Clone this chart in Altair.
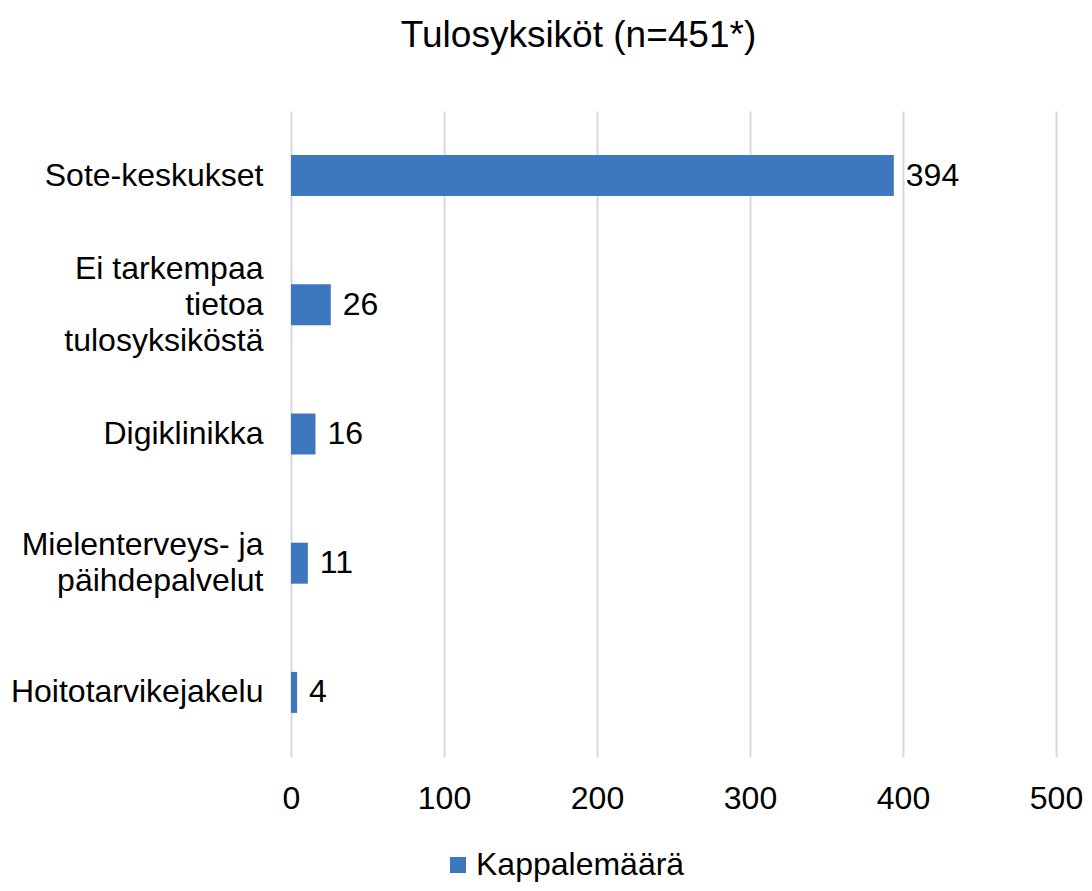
import altair as alt
import pandas as pd

categories = ["Sote-keskukset", "Ei tarkempaa\ntietoa\ntulosyksiköstä", "Digiklinikka",
              "Mielenterveys- ja\npäihdepalvelut", "Hoitotarvikejakelu"]
values = [394, 26, 16, 11, 4]
series_name = "Kappalemäärä"
x_ticks = [0, 100, 200, 300, 400, 500]

df = pd.DataFrame({"cat": categories, "val": values, "series": [series_name] * len(values)})

FONT = "Liberation Sans"
BLUE = "#3D77BE"
FS = 32
LH = 36

y_enc = alt.Y("cat:N", sort=categories, title=None,
              scale=alt.Scale(paddingInner=0.68, paddingOuter=0.34),
              axis=alt.Axis(labelExpr="split(datum.label, '\\n')", labelFontSize=FS,
                            labelFont=FONT, labelColor="#000000", labelLineHeight=LH,
                            labelOffset={"expr": f"-(length(split(datum.label, '\\n')) - 1) * {LH / 2}"},
                            labelPadding=28, domain=False, ticks=False, grid=False,
                            labelLimit=400))
x_enc = alt.X("val:Q", title=None,
              scale=alt.Scale(domain=[0, 500], nice=False),
              axis=alt.Axis(values=x_ticks, labelFontSize=FS, labelFont=FONT,
                            labelColor="#000000", labelPadding=26, labelFlush=False,
                            domain=False, ticks=False, grid=True,
                            gridColor="#d9d9d9", gridWidth=2))

bars = alt.Chart(df).mark_bar(size=41).encode(
    y=y_enc, x=x_enc,
    color=alt.Color("series:N", title=None,
                    scale=alt.Scale(range=[BLUE]),
                    legend=alt.Legend(orient="none", legendX=151, legendY=738,
                                      symbolType="square", symbolSize=256,
                                      symbolStrokeWidth=0, labelFontSize=FS,
                                      labelFont=FONT, labelColor="#000000",
                                      labelLimit=400, symbolOffset=0, labelOffset=2)),
)

labels = alt.Chart(df).mark_text(align="left", baseline="middle", dx=12,
                                 fontSize=FS, font=FONT, color="#000000").encode(
    y=alt.Y("cat:N", sort=categories), x="val:Q", text="val:Q")

chart = alt.layer(bars, labels).properties(
    width=765, height=646,
    padding={"left": 283, "top": 103, "right": 28, "bottom": 126},
    autosize=alt.AutoSizeParams(type="none"),
    title=alt.TitleParams("Tulosyksiköt (n=451*)", fontSize=37, font=FONT,
                          fontWeight="normal", color="#000000", anchor="middle",
                          dx=-95, offset=56),
).configure_view(stroke=None)

chart.save("out.html", embed_options={"renderer": "svg", "actions": False})
